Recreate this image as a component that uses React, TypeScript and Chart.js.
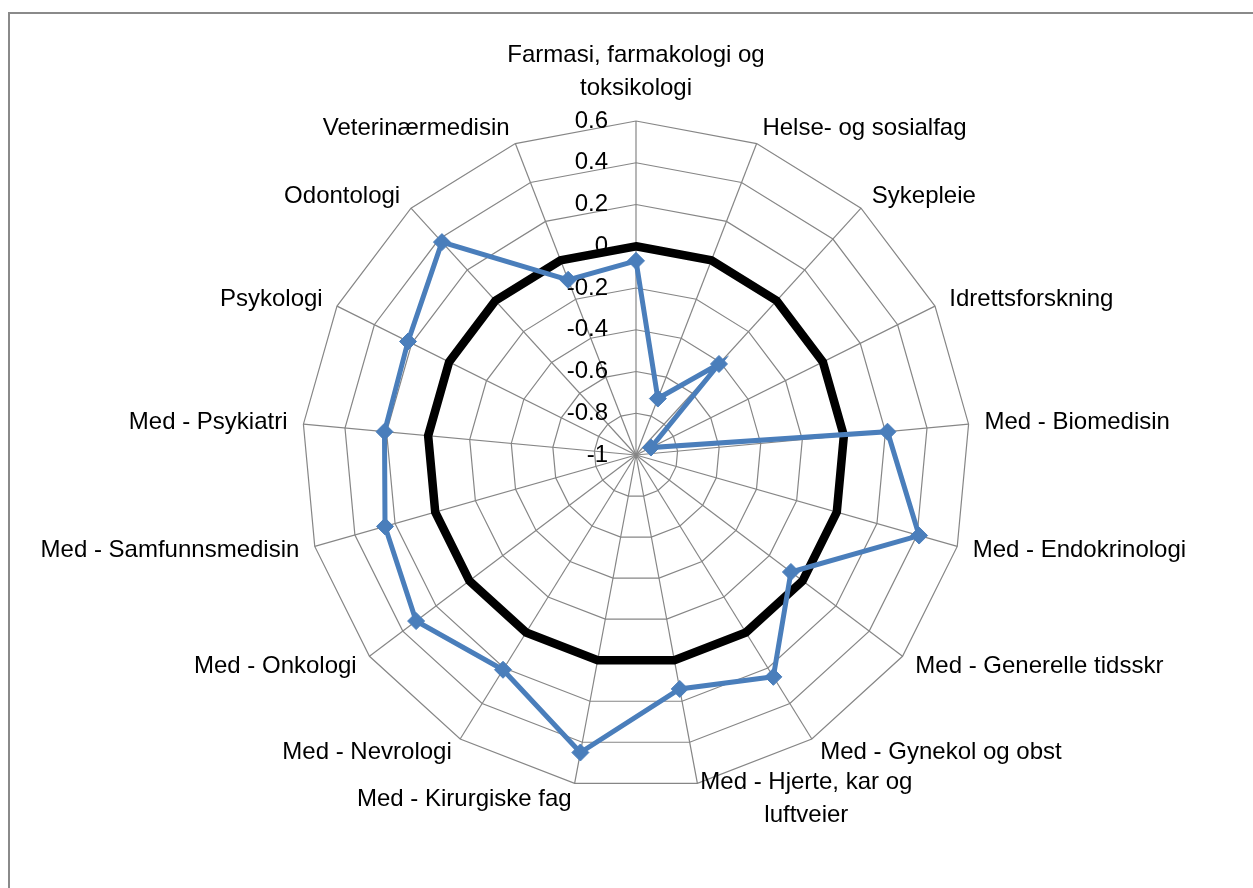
import React, { useEffect, useRef } from "react";
import { Chart, registerables } from "chart.js";

Chart.register(...registerables);

const categories: (string | string[])[] = [
  ["Farmasi, farmakologi og", "toksikologi"],
  "Helse- og sosialfag",
  "Sykepleie",
  "Idrettsforskning",
  "Med - Biomedisin",
  "Med - Endokrinologi",
  "Med - Generelle tidsskr",
  "Med - Gynekol og obst",
  ["Med - Hjerte, kar og", "luftveier"],
  "Med - Kirurgiske fag",
  "Med - Nevrologi",
  "Med - Onkologi",
  "Med - Samfunnsmedisin",
  "Med - Psykiatri",
  "Psykologi",
  "Odontologi",
  "Veterinærmedisin",
];

const indexValues = [
  -0.07, -0.71, -0.41, -0.92, 0.21, 0.41, -0.07, 0.25, 0.14, 0.45, 0.21, 0.32,
  0.25, 0.21, 0.22, 0.38, -0.1,
];

const referenceValues = [0, 0, 0, 0, 0, 0, 0, 0, 0, 0, 0, 0, 0, 0, 0, 0, 0];

const tickLabels = ["-1", "-0.8", "-0.6", "-0.4", "-0.2", "0", "0.2", "0.4", "0.6"];

const FONT = '24px "Liberation Sans", Arial, sans-serif';
const GRID = "#868686";
const BLUE = "#4a7ebb";

const excelDecor = {
  id: "excelDecor",
  beforeDraw(chart: any) {
    const ctx = chart.ctx;
    ctx.save();
    ctx.strokeStyle = "#8a8a8a";
    ctx.lineWidth = 2;
    ctx.strokeRect(9, 13, 1400, 1000);
    ctx.restore();
  },
  beforeDatasetsDraw(chart: any) {
    const scale = chart.scales.r;
    const ctx = chart.ctx;
    ctx.save();
    ctx.font = FONT;
    ctx.fillStyle = "#000";
    ctx.textAlign = "right";
    ctx.textBaseline = "middle";
    tickLabels.forEach((label) => {
      const d = scale.getDistanceFromCenterForValue(parseFloat(label));
      ctx.fillText(label, scale.xCenter - 28, scale.yCenter - d);
    });

    const lh = 33;
    (chart.data.labels as (string | string[])[]).forEach((lab, i) => {
      const lines = Array.isArray(lab) ? lab : [lab];
      const p = scale.getPointPosition(i, scale.drawingArea + 16);
      const angle = scale.getIndexAngle(i);
      const s = Math.sin(angle);
      const c = Math.cos(angle);
      const bw = Math.max(...lines.map((l) => ctx.measureText(l).width));
      let cx: number;
      if (Math.abs(s) < 1e-6) cx = p.x;
      else if (s > 0) cx = p.x + bw / 2;
      else cx = p.x - bw / 2;
      let top: number;
      if (Math.abs(s) < 1e-6 && c > 0) top = p.y - lines.length * lh;
      else if (Math.abs(s) < 1e-6 && c < 0) top = p.y;
      else top = p.y - (lines.length * lh) / 2;
      ctx.textAlign = "center";
      lines.forEach((l, k) => ctx.fillText(l, cx, top + lh * k + lh / 2));
    });
    ctx.restore();
  },
};

export default function App() {
  const ref = useRef<HTMLCanvasElement | null>(null);
  useEffect(() => {
    if (!ref.current) return;
    const chart = new Chart(ref.current, {
      type: "radar",
      data: {
        labels: categories,
        datasets: [
          {
            label: "Referanse",
            data: referenceValues,
            borderColor: "#000000",
            backgroundColor: "rgba(0,0,0,0)",
            borderWidth: 8.5,
            pointRadius: 0,
            fill: false,
            order: 1,
          },
          {
            label: "Indeks",
            data: indexValues,
            borderColor: BLUE,
            backgroundColor: BLUE,
            borderWidth: 5,
            pointStyle: "rectRot",
            pointRadius: 8.5,
            pointBackgroundColor: BLUE,
            pointBorderColor: BLUE,
            pointBorderWidth: 1,
            fill: false,
            order: 0,
          },
        ],
      },
      options: {
        responsive: false,
        animation: false,
        layout: { padding: { left: 302, right: 283, top: 121, bottom: 99 } },
        plugins: { legend: { display: false }, tooltip: { enabled: false } },
        elements: { line: { tension: 0 } },
        scales: {
          r: {
            min: -1,
            max: 0.6,
            startAngle: 0,
            ticks: { display: false, stepSize: 0.2 },
            pointLabels: { display: false },
            grid: { color: GRID, lineWidth: 1.2, circular: false },
            angleLines: { display: true, color: GRID, lineWidth: 1.2 },
          },
        },
      },
      plugins: [excelDecor],
    });
    return () => chart.destroy();
  }, []);
  return (
    <canvas
      ref={ref}
      width={1253}
      height={888}
      style={{ position: "absolute", left: 0, top: 0, display: "block" }}
    />
  );
}
